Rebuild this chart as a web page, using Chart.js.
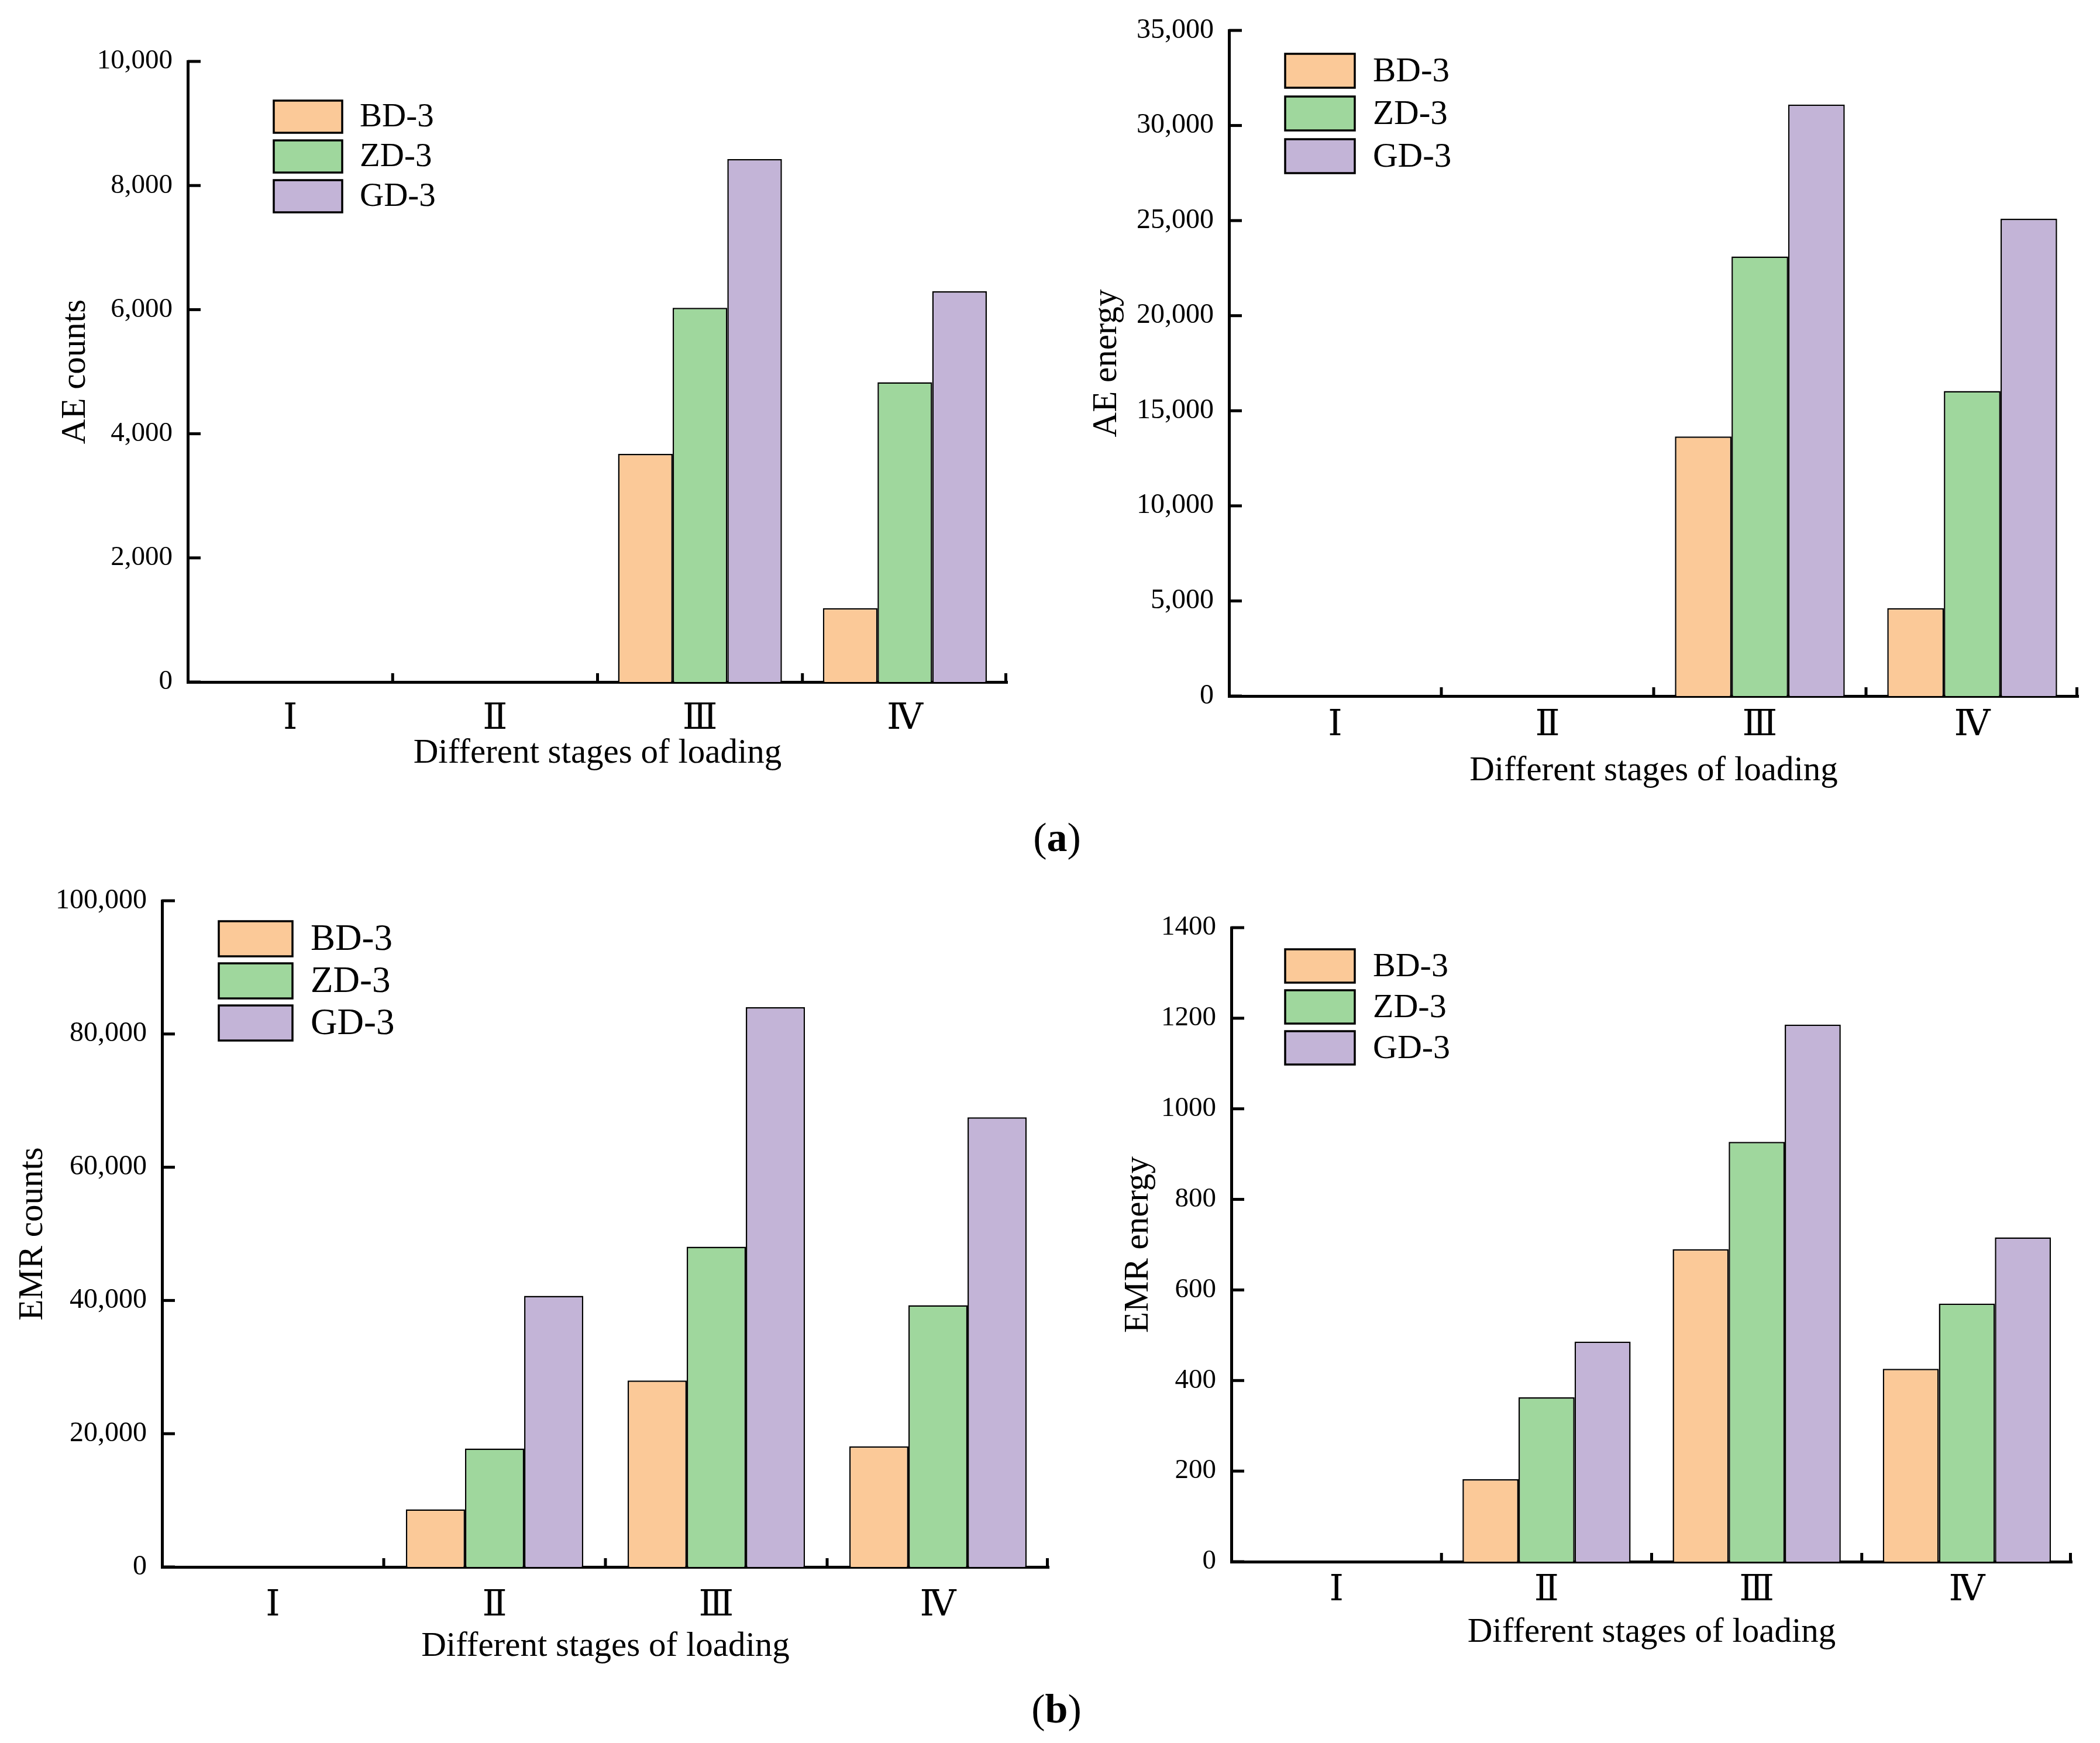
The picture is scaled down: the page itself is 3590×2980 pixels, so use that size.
<!DOCTYPE html>
<html><head><meta charset="utf-8">
<script src="https://cdn.jsdelivr.net/npm/chart.js@4.4.0/dist/chart.umd.min.js"></script>
<style>
html,body{margin:0;padding:0;background:#fff;}
body{width:3590px;height:2980px;position:relative;overflow:hidden;}
canvas{position:absolute;}
.tag{position:absolute;font-family:'Liberation Serif',serif;font-size:70px;color:#000;transform:translate(-50%,-50%);white-space:nowrap;line-height:1;}
</style></head><body>
<canvas id="cA"></canvas>
<canvas id="cB"></canvas>
<canvas id="cC"></canvas>
<canvas id="cD"></canvas>
<div class="tag" style="left:1807px;top:1432px">(<b>a</b>)</div>
<div class="tag" style="left:1806px;top:2922px">(<b>b</b>)</div>
<script>
// ---- data ----
const stages = ['Ⅰ', 'Ⅱ', 'Ⅲ', 'Ⅳ'];
const seriesNames = ['BD-3', 'ZD-3', 'GD-3'];
const xTitle = 'Different stages of loading';

const aeCountsBD = [0, 0, 3675, 1190];
const aeCountsZD = [0, 0, 6030, 4830];
const aeCountsGD = [0, 0, 8425, 6295];

const aeEnergyBD = [0, 0, 13650, 4620];
const aeEnergyZD = [0, 0, 23110, 16040];
const aeEnergyGD = [0, 0, 31100, 25100];

const emrCountsBD = [0, 8650, 27980, 18100];
const emrCountsZD = [0, 17780, 48070, 39280];
const emrCountsGD = [0, 40700, 84020, 67500];

const emrEnergyBD = [0, 182, 690, 426];
const emrEnergyZD = [0, 363, 927, 570];
const emrEnergyGD = [0, 486, 1186, 716];

const colors = ['#FBC998', '#9FD79D', '#C3B4D7'];

// ---- plugins ----
const innerTicks = {
  id: 'innerTicks',
  afterDraw(chart, args, o) {
    const ctx = chart.ctx, xs = chart.scales.x, ys = chart.scales.y, a = chart.chartArea;
    ctx.save();
    ctx.strokeStyle = '#000';
    ctx.lineWidth = 5;
    ctx.lineCap = 'butt';
    ys.ticks.forEach((t, i) => {
      const py = ys.getPixelForTick(i);
      ctx.beginPath(); ctx.moveTo(a.left, py); ctx.lineTo(a.left + 22, py); ctx.stroke();
    });
    const n = xs.ticks.length;
    for (let i = 1; i <= n; i++) {
      const px = i < n ? (xs.getPixelForTick(i - 1) + xs.getPixelForTick(i)) / 2 : a.right - 2.5;
      ctx.beginPath(); ctx.moveTo(px, a.bottom); ctx.lineTo(px, a.bottom - 15); ctx.stroke();
    }
    ctx.restore();
  }
};

const boxLegend = {
  id: 'boxLegend',
  afterDraw(chart, args, o) {
    const ctx = chart.ctx;
    ctx.save();
    chart.data.datasets.forEach((ds, i) => {
      const y = o.y + i * o.step;
      ctx.fillStyle = ds.backgroundColor;
      ctx.fillRect(o.x, y, o.w, o.h);
      ctx.lineWidth = 3.5;
      ctx.strokeStyle = '#000';
      ctx.strokeRect(o.x, y, o.w, o.h);
      ctx.fillStyle = '#000';
      ctx.font = o.font + 'px "Liberation Serif"';
      ctx.textBaseline = 'middle';
      ctx.textAlign = 'left';
      ctx.fillText(ds.label, o.textX, y + o.h / 2 + 2);
    });
    ctx.restore();
  }
};

const withCommas = v => Number(v).toLocaleString('en-US');
const plain = v => String(v);

function makeChart(id, L, series, yMax, yStep, yTitle, fmt) {
  const cv = document.getElementById(id);
  cv.width = L.w; cv.height = L.h;
  cv.style.left = L.left + 'px'; cv.style.top = L.top + 'px';
  cv.style.width = L.w + 'px'; cv.style.height = L.h + 'px';
  new Chart(cv, {
    type: 'bar',
    data: {
      labels: stages,
      datasets: series.map((vals, i) => ({
        label: seriesNames[i],
        data: vals,
        backgroundColor: colors[i],
        borderColor: '#000',
        borderWidth: 2.5,
        barPercentage: 1.0,
        categoryPercentage: 0.8
      }))
    },
    options: {
      responsive: false,
      animation: false,
      devicePixelRatio: 1,
      layout: { padding: { left: 0, top: L.padT, right: L.padR, bottom: 0 } },
      plugins: {
        legend: { display: false },
        tooltip: { enabled: false },
        boxLegend: L.legend
      },
      scales: {
        x: {
          type: 'category',
          offset: true,
          grid: { display: false, drawTicks: false },
          border: { display: true, color: '#000', width: 5 },
          ticks: { color: '#000', padding: L.xLabPad, maxRotation: 0, autoSkip: false,
                   font: { family: '"DejaVu Serif", "Liberation Serif", serif', size: 62, lineHeight: 1 } },
          title: { display: true, text: xTitle, color: '#000',
                   font: { family: '"Liberation Serif", serif', size: 59, lineHeight: 1 },
                   padding: { top: 0, bottom: L.xTitlePad } },
          afterFit(s) { s.height = L.xH; }
        },
        y: {
          min: 0, max: yMax,
          grid: { display: false, drawTicks: false },
          border: { display: true, color: '#000', width: 5 },
          ticks: { stepSize: yStep, color: '#000', padding: 26, callback: v => fmt(v),
                   font: { family: '"Liberation Serif", serif', size: L.yFont, lineHeight: 1 } },
          title: { display: true, text: yTitle, color: '#000',
                   font: { family: '"Liberation Serif", serif', size: 59, lineHeight: 1 },
                   padding: { top: L.yTitlePad, bottom: 0 } },
          afterFit(s) { s.width = L.yW; }
        }
      }
    },
    plugins: [innerTicks, boxLegend]
  });
}

// chart area targets (page px): A l321 t105 r1722 b1166; B l2101 t52 r3553 b1190;
// C l277 t1536 r1793 b2679; D l2105 t1586 r3542 b2670
makeChart('cA', { left: 0, top: 0, w: 1780, h: 1340, padT: 105, padR: 58, yW: 321, xH: 174,
  yTitlePad: 100, xLabPad: 33, xTitlePad: 22, yFont: 47,
  legend: { x: 468, y: 172, w: 117, h: 55, step: 68, textX: 615, font: 57 } },
  [aeCountsBD, aeCountsZD, aeCountsGD], 10000, 2000, 'AE counts', withCommas);

makeChart('cB', { left: 1790, top: 0, w: 1800, h: 1380, padT: 52, padR: 37, yW: 311, xH: 190,
  yTitlePad: 73, xLabPad: 20, xTitlePad: 32, yFont: 48,
  legend: { x: 407, y: 92, w: 119, h: 58, step: 73, textX: 557, font: 59 } },
  [aeEnergyBD, aeEnergyZD, aeEnergyGD], 35000, 5000, 'AE energy', withCommas);

makeChart('cC', { left: 0, top: 1490, w: 1800, h: 1370, padT: 46, padR: 7, yW: 277, xH: 181,
  yTitlePad: 27, xLabPad: 36, xTitlePad: 15, yFont: 48,
  legend: { x: 374, y: 85, w: 126, h: 60, step: 72, textX: 531, font: 63 } },
  [emrCountsBD, emrCountsZD, emrCountsGD], 100000, 20000, 'EMR counts', withCommas);

makeChart('cD', { left: 1790, top: 1490, w: 1800, h: 1370, padT: 96, padR: 48, yW: 315, xH: 190,
  yTitlePad: 127, xLabPad: 19, xTitlePad: 39, yFont: 47,
  legend: { x: 407, y: 133, w: 119, h: 57, step: 70, textX: 557, font: 58 } },
  [emrEnergyBD, emrEnergyZD, emrEnergyGD], 1400, 200, 'EMR energy', plain);
</script>
</body></html>
